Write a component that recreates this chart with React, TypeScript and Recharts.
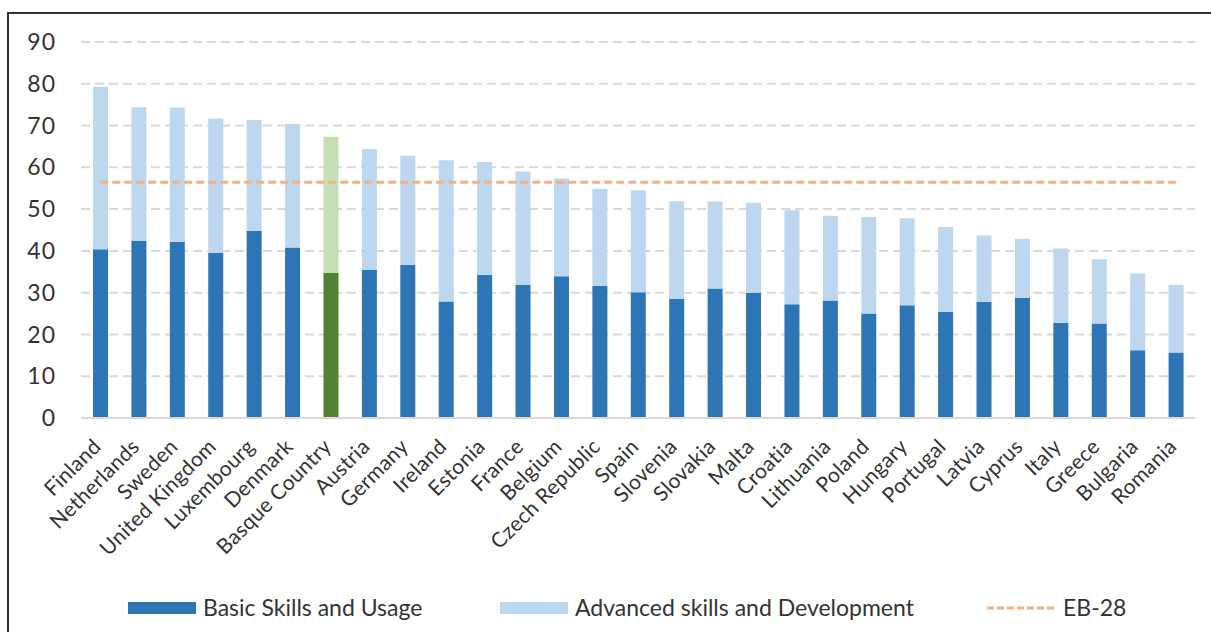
import { Bar, CartesianGrid, Cell, ComposedChart, ReferenceLine, XAxis, YAxis } from "recharts";

const COUNTRIES = [
  "Finland", "Netherlands", "Sweden", "United Kingdom", "Luxembourg", "Denmark",
  "Basque Country", "Austria", "Germany", "Ireland", "Estonia", "France", "Belgium",
  "Czech Republic", "Spain", "Slovenia", "Slovakia", "Malta", "Croatia", "Lithuania",
  "Poland", "Hungary", "Portugal", "Latvia", "Cyprus", "Italy", "Greece", "Bulgaria", "Romania"
];

const BASIC = [
  40.4, 42.4, 42.1, 39.5, 44.8, 40.8, 34.7, 35.4, 36.6, 27.9, 34.3, 31.9, 33.9, 31.6, 30.1,
  28.5, 31.0, 30.0, 27.2, 28.1, 25.0, 27.0, 25.4, 27.8, 28.8, 22.8, 22.6, 16.2, 15.7
];

const ADVANCED = [
  38.9, 32.0, 32.2, 32.2, 26.5, 29.6, 32.6, 29.0, 26.2, 33.8, 27.0, 27.1, 23.4, 23.3, 24.4,
  23.4, 20.8, 21.5, 22.5, 20.3, 23.1, 20.8, 20.3, 15.9, 14.1, 17.8, 15.4, 18.4, 16.2
];

const EB28 = 56.4;
const Y_TICKS = [0, 10, 20, 30, 40, 50, 60, 70, 80, 90];
const HIGHLIGHT = "Basque Country";

const COLORS = {
  basic: "#2e75b6",
  advanced: "#bdd7ee",
  basicHighlight: "#548235",
  advancedHighlight: "#c5e0b4",
  eb28: "#f4b183",
  grid: "#d9d9d9",
  text: "#333333"
};

const FONT = "Lato, 'Open Sans', sans-serif";

const data = COUNTRIES.map((country, i) => ({
  country,
  basic: BASIC[i],
  advanced: ADVANCED[i]
}));

function CountryTick({ x, y, payload }: { x?: number; y?: number; payload?: { value: string } }) {
  return (
    <g transform={`translate(${(x ?? 0) + 2},${(y ?? 0) + 22})`}>
      <text
        fill={COLORS.text}
        fontFamily={FONT}
        fontSize={21}
        letterSpacing={0.3}
        textAnchor="end"
        transform="rotate(-45)"
      >
        {payload?.value}
      </text>
    </g>
  );
}

function LegendRow() {
  const label = {
    position: "absolute" as const,
    top: 595,
    fontFamily: FONT,
    fontSize: 23,
    color: COLORS.text,
    lineHeight: "24px",
    whiteSpace: "nowrap" as const
  };
  return (
    <>
      <div style={{ position: "absolute", left: 128, top: 602, width: 68, height: 12, background: COLORS.basic }} />
      <div style={{ ...label, left: 203 }}>Basic Skills and Usage</div>
      <div style={{ position: "absolute", left: 500, top: 602, width: 68, height: 12, background: COLORS.advanced }} />
      <div style={{ ...label, left: 575 }}>Advanced skills and Development</div>
      <svg style={{ position: "absolute", left: 987, top: 604 }} width={72} height={8}>
        <line x1={0} x2={70} y1={4} y2={4} stroke={COLORS.eb28} strokeWidth={3} strokeDasharray="7 3" />
      </svg>
      <div style={{ ...label, left: 1063 }}>EB-28</div>
    </>
  );
}

export default function App() {
  return (
    <div style={{ position: "absolute", left: 0, top: 0, width: 1211, height: 632, overflow: "hidden", background: "#fff" }}>
      <div
        style={{
          position: "absolute",
          left: 7,
          top: 12,
          width: 1300,
          height: 700,
          borderTop: "2px solid #333",
          borderLeft: "2px solid #333"
        }}
      />
      <div style={{ position: "absolute", left: 0, top: 0 }}>
        <ComposedChart
          width={1211}
          height={632}
          data={data}
          margin={{ top: 42, right: 16, bottom: 0, left: 0 }}
        >
          <CartesianGrid
            horizontal
            vertical={false}
            stroke={COLORS.grid}
            strokeDasharray="9 5"
            strokeWidth={2}
          />
          <XAxis
            dataKey="country"
            interval={0}
            height={214}
            tickLine={false}
            axisLine={{ stroke: COLORS.grid, strokeWidth: 2 }}
            tick={<CountryTick />}
          />
          <YAxis
            width={81}
            domain={[0, 90]}
            ticks={Y_TICKS}
            axisLine={false}
            tickLine={false}
            tickSize={0}
            tickMargin={25}
            tick={{ fill: COLORS.text, fontFamily: FONT, fontSize: 23, letterSpacing: 1 }}
          />
          <Bar dataKey="basic" stackId="skills" barSize={15} isAnimationActive={false}>
            {data.map((row) => (
              <Cell key={row.country} fill={row.country === HIGHLIGHT ? COLORS.basicHighlight : COLORS.basic} />
            ))}
          </Bar>
          <Bar dataKey="advanced" stackId="skills" barSize={15} isAnimationActive={false}>
            {data.map((row) => (
              <Cell key={row.country} fill={row.country === HIGHLIGHT ? COLORS.advancedHighlight : COLORS.advanced} />
            ))}
          </Bar>
          <ReferenceLine
            segment={[
              { x: COUNTRIES[0], y: EB28 },
              { x: COUNTRIES[COUNTRIES.length - 1], y: EB28 }
            ]}
            stroke={COLORS.eb28}
            strokeWidth={3}
            strokeDasharray="8 4"
          />
        </ComposedChart>
      </div>
      <LegendRow />
    </div>
  );
}
